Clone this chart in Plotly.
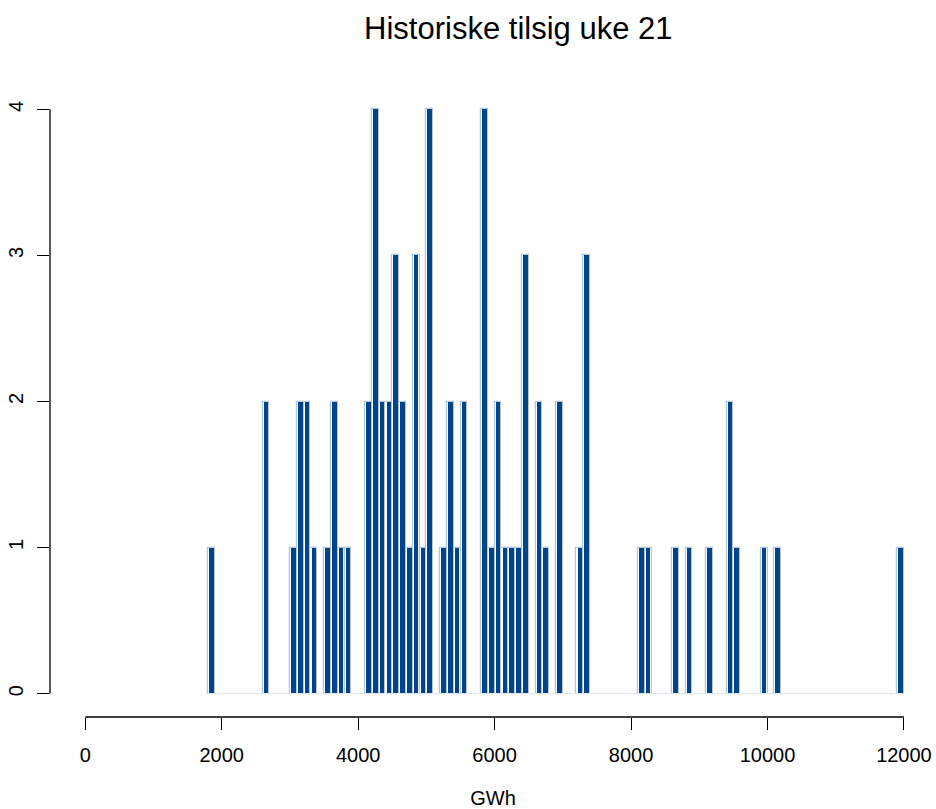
import plotly.graph_objects as go

# Histogram data (lower bin edges in GWh, bin width 100) and counts
BIN_WIDTH = 100
bin_starts = [1800, 2600, 3000, 3100, 3200, 3300, 3500, 3600, 3700, 3800,
              4100, 4200, 4300, 4400, 4500, 4600, 4700, 4800, 4900, 5000,
              5200, 5300, 5400, 5500, 5800, 5900, 6000, 6100, 6200, 6300, 6400,
              6600, 6700, 6900, 7200, 7300,
              8100, 8200, 8600, 8800, 9100, 9400, 9500, 9900, 10100, 11900]
counts = [1, 2, 1, 2, 2, 1, 1, 2, 1, 1,
          2, 4, 2, 2, 3, 2, 1, 3, 1, 4,
          1, 2, 1, 2, 4, 1, 2, 1, 1, 1, 3,
          2, 1, 2, 1, 3,
          1, 1, 1, 1, 1, 2, 1, 1, 1, 1]
x_ticks = [0, 2000, 4000, 6000, 8000, 10000, 12000]
y_ticks = [0, 1, 2, 3, 4]

title_text = "Historiske tilsig uke 21"
x_label = "GWh"

centers = [b + BIN_WIDTH / 2 for b in bin_starts]
FONT = "Liberation Sans, Arial, sans-serif"
DARK = "#00458a"
EDGE = "#b3c5dc"

fig = go.Figure()
# baseline of empty bins
fig.add_trace(go.Scatter(
    x=[bin_starts[0], bin_starts[-1] + BIN_WIDTH], y=[0, 0],
    mode="lines", line=dict(color="#e3e8ef", width=1.2),
    hoverinfo="skip", showlegend=False))
# outer bar outline
fig.add_trace(go.Bar(
    x=centers, y=counts, width=BIN_WIDTH,
    marker=dict(color="white", line=dict(color=EDGE, width=1.2)),
    showlegend=False))
# inner filled bar
fig.add_trace(go.Bar(
    x=centers, y=counts, width=BIN_WIDTH * 0.68,
    marker=dict(color=DARK, line=dict(width=0)),
    showlegend=False))

fig.update_layout(
    width=936, height=809,
    margin=dict(l=50, r=0, t=86, b=92),
    paper_bgcolor="white", plot_bgcolor="white",
    barmode="overlay", bargap=0,
    font=dict(family=FONT, color="black", size=20),
    title=dict(text=title_text, x=(518.3 - 50) / 886, xref="paper",
               xanchor="center", y=1 - 17 / 809, yref="container",
               yanchor="top", font=dict(size=31, family=FONT, color="black")),
    xaxis=dict(range=[-517.4, 12470], tickvals=x_ticks,
               ticktext=[str(v) for v in x_ticks],
               ticks="outside", ticklen=12, tickwidth=1.3, tickcolor="black",
               showgrid=False, zeroline=False, showline=False, automargin=False,
               tickfont=dict(size=20, family=FONT), ticklabelstandoff=8,
               title=dict(text=x_label, standoff=41, font=dict(size=20, family=FONT))),
    yaxis=dict(range=[-0.16, 4.16], tickvals=y_ticks,
               ticktext=[str(v) for v in y_ticks], tickangle=-90,
               ticks="outside", ticklen=12, tickwidth=1.3, tickcolor="black",
               showgrid=False, zeroline=False, showline=False, automargin=False,
               tickfont=dict(size=20, family=FONT), ticklabelstandoff=6),
    shapes=[
        dict(type="line", xref="x", yref="paper", x0=x_ticks[0], x1=x_ticks[-1],
             y0=0, y1=0, line=dict(color="black", width=1.3)),
        dict(type="line", xref="paper", yref="y", x0=0, x1=0,
             y0=y_ticks[0], y1=y_ticks[-1], line=dict(color="black", width=1.3)),
    ],
)

fig.write_html("out.html")
